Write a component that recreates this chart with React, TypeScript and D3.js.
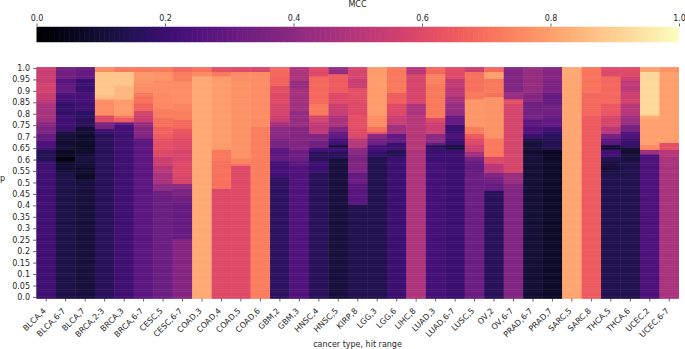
import React, { useEffect, useRef } from 'react';
import * as d3 from 'd3';

type Band = [number, number];

const categories = [
  'BLCA,4', 'BLCA,6-7', 'BLCA,7', 'BRCA,2-3', 'BRCA,3', 'BRCA,6-7', 'CESC,5', 'CESC,6-7', 'COAD,3', 'COAD,4', 'COAD,5',
  'COAD,6', 'GBM,2', 'GBM,3', 'HNSC,4', 'HNSC,5', 'KIRP,8', 'LGG,3', 'LGG,6', 'LIHC,8', 'LUAD,3', 'LUAD,6-7',
  'LUSC,5', 'OV,2', 'OV,6-7', 'PRAD,6-7', 'PRAD,7', 'SARC,5', 'SARC,8', 'THCA,5', 'THCA,6', 'UCEC,2', 'UCEC,6-7',
];

const blca4: Band[] = [[0.94, 0.55], [0.9, 0.57], [0.87, 0.54], [0.85, 0.5], [0.8, 0.47], [0.77, 0.45], [0.75, 0.38], [0.72, 0.36], [0.69, 0.3], [0.66, 0.24], [0.65, 0.2], [0.6, 0.15], [0.58, 0.2], [0, 0.21]];
const blca67: Band[] = [[0.96, 0.33], [0.93, 0.27], [0.9, 0.3], [0.87, 0.24], [0.85, 0.2], [0.8, 0.18], [0.75, 0.21], [0.73, 0.2], [0.7, 0.11], [0.67, 0.09], [0.65, 0.1], [0.62, 0.07], [0.6, 0.03], [0.58, 0.08], [0.55, 0.1], [0, 0.13]];
const blca7: Band[] = [[0.96, 0.3], [0.9, 0.2], [0.87, 0.23], [0.82, 0.21], [0.79, 0.17], [0.75, 0.16], [0.72, 0.1], [0.67, 0.08], [0.65, 0.07], [0.62, 0.09], [0.6, 0.12], [0.57, 0.1], [0.54, 0.08], [0.52, 0.07], [0, 0.11]];
const brca23: Band[] = [[0.985, 0.76], [0.89, 0.88], [0.87, 0.86], [0.8, 0.76], [0.765, 0.6], [0.74, 0.35], [0.72, 0.2], [0, 0.16]];
const brca3: Band[] = [[0.985, 0.72], [0.93, 0.88], [0.87, 0.85], [0.8, 0.79], [0.79, 0.72], [0.77, 0.66], [0.755, 0.3], [0.73, 0.22], [0, 0.21]];
const brca67: Band[] = [[0.985, 0.72], [0.94, 0.78], [0.9, 0.76], [0.88, 0.72], [0.85, 0.7], [0.82, 0.67], [0.8, 0.58], [0.77, 0.55], [0.75, 0.42], [0.7, 0.38], [0, 0.28]];
const cesc5: Band[] = [[0.985, 0.72], [0.95, 0.77], [0.94, 0.75], [0.9, 0.76], [0.83, 0.75], [0.79, 0.73], [0.75, 0.7], [0.72, 0.67], [0.7, 0.66], [0.65, 0.62], [0.62, 0.6], [0.58, 0.55], [0.55, 0.5], [0.5, 0.47], [0.47, 0.4], [0, 0.32]];
const cesc67: Band[] = [[0.985, 0.68], [0.95, 0.73], [0.85, 0.76], [0.82, 0.74], [0.78, 0.73], [0.74, 0.68], [0.7, 0.63], [0.65, 0.6], [0.6, 0.58], [0.53, 0.6], [0.5, 0.58], [0.48, 0.4], [0.45, 0.36], [0.42, 0.33], [0.26, 0.3], [0, 0.38]];
const coad3: Band[] = [[0.99, 0.7], [0.97, 0.76], [0, 0.82]];
const coad4: Band[] = [[0.99, 0.62], [0.97, 0.72], [0.66, 0.79], [0.65, 0.78], [0.6, 0.72], [0.475, 0.7], [0, 0.6]];
const coad5: Band[] = [[0.99, 0.6], [0.95, 0.76], [0.61, 0.77], [0.59, 0.74], [0.575, 0.7], [0, 0.6]];
const coad6: Band[] = [[0.985, 0.58], [0.75, 0.76], [0, 0.73]];
const gbm2: Band[] = [[0.97, 0.68], [0.93, 0.67], [0.9, 0.62], [0.85, 0.6], [0.8, 0.58], [0.77, 0.55], [0.75, 0.45], [0.7, 0.4], [0.66, 0.35], [0.62, 0.28], [0.6, 0.3], [0.53, 0.22], [0, 0.17]];
const gbm3: Band[] = [[0.95, 0.48], [0.92, 0.42], [0.88, 0.46], [0.82, 0.45], [0.75, 0.42], [0.7, 0.38], [0.65, 0.37], [0.6, 0.32], [0.58, 0.28], [0, 0.25]];
const hnsc4: Band[] = [[0.97, 0.6], [0.85, 0.68], [0.8, 0.72], [0.77, 0.58], [0.72, 0.52], [0.69, 0.38], [0.66, 0.33], [0.64, 0.22], [0.6, 0.16], [0.55, 0.2], [0, 0.16]];
const hnsc5: Band[] = [[0.98, 0.42], [0.9, 0.65], [0.85, 0.6], [0.8, 0.55], [0.75, 0.47], [0.73, 0.38], [0.7, 0.3], [0.67, 0.22], [0.66, 0.1], [0.64, 0.2], [0.61, 0.16], [0, 0.11]];
const kirp8: Band[] = [[0.96, 0.58], [0.92, 0.55], [0.87, 0.62], [0.8, 0.6], [0.74, 0.62], [0.7, 0.6], [0.66, 0.5], [0.63, 0.4], [0.6, 0.35], [0.55, 0.37], [0.52, 0.3], [0.5, 0.32], [0.41, 0.27], [0, 0.14]];
const lgg3: Band[] = [[0.8, 0.79], [0.75, 0.76], [0.73, 0.7], [0.72, 0.63], [0.7, 0.4], [0.67, 0.33], [0.64, 0.22], [0.615, 0.18], [0, 0.14]];
const lgg6: Band[] = [[0.9, 0.72], [0.85, 0.66], [0.8, 0.6], [0.76, 0.55], [0.72, 0.45], [0.68, 0.3], [0.65, 0.2], [0.62, 0.15], [0, 0.2]];
const lihc8: Band[] = [[0.98, 0.5], [0.85, 0.58], [0.8, 0.48], [0.65, 0.5], [0, 0.48]];
const luad3: Band[] = [[0.98, 0.68], [0.94, 0.74], [0.79, 0.72], [0.77, 0.6], [0.72, 0.55], [0.68, 0.4], [0.67, 0.3], [0.66, 0.15], [0.65, 0.18], [0.6, 0.2], [0, 0.22]];
const luad67: Band[] = [[0.96, 0.6], [0.92, 0.53], [0.88, 0.5], [0.85, 0.46], [0.8, 0.42], [0.76, 0.3], [0.72, 0.2], [0.7, 0.25], [0.67, 0.2], [0.65, 0.12], [0.64, 0.2], [0, 0.2]];
const lusc5: Band[] = [[0.99, 0.55], [0.9, 0.7], [0.87, 0.72], [0.75, 0.78], [0.72, 0.73], [0.7, 0.65], [0.67, 0.6], [0.64, 0.55], [0.62, 0.45], [0.6, 0.35], [0.55, 0.3], [0, 0.32]];
const ov2: Band[] = [[0.985, 0.68], [0.96, 0.8], [0.9, 0.72], [0.88, 0.7], [0.7, 0.77], [0.62, 0.72], [0.59, 0.6], [0.55, 0.5], [0.53, 0.38], [0.5, 0.33], [0.47, 0.3], [0, 0.16]];
const ov67: Band[] = [[0.9, 0.37], [0.87, 0.43], [0.85, 0.62], [0.55, 0.58], [0.5, 0.43], [0, 0.37]];
const prad67: Band[] = [[0.9, 0.42], [0.86, 0.38], [0.82, 0.33], [0.78, 0.34], [0.75, 0.28], [0.72, 0.25], [0.7, 0.2], [0.68, 0.12], [0.65, 0.11], [0.62, 0.09], [0.6, 0.11], [0, 0.1]];
const prad7: Band[] = [[0.95, 0.38], [0.9, 0.36], [0.85, 0.3], [0.8, 0.33], [0.75, 0.3], [0.73, 0.22], [0.7, 0.17], [0.65, 0.14], [0.62, 0.06], [0, 0.075]];
const sarc5: Band[] = [[0.97, 0.82], [0, 0.81]];
const sarc8: Band[] = [[0.9, 0.71], [0.8, 0.68], [0, 0.65]];
const thca5: Band[] = [[0.97, 0.6], [0.85, 0.68], [0.8, 0.64], [0.75, 0.58], [0.72, 0.5], [0.7, 0.35], [0.67, 0.27], [0.65, 0.1], [0.62, 0.22], [0.6, 0.15], [0.55, 0.11], [0, 0.14]];
const thca6: Band[] = [[0.97, 0.6], [0.95, 0.56], [0.9, 0.52], [0.85, 0.56], [0.8, 0.5], [0.76, 0.44], [0.73, 0.35], [0.7, 0.25], [0.67, 0.2], [0.66, 0.18], [0.63, 0.09], [0.6, 0.11], [0, 0.14]];
const ucec2: Band[] = [[0.985, 0.8], [0.8, 0.92], [0.78, 0.82], [0.67, 0.8], [0.65, 0.75], [0.63, 0.45], [0, 0.24]];
const ucec67: Band[] = [[0.985, 0.77], [0.68, 0.8], [0.65, 0.62], [0.62, 0.5], [0, 0.47]];

const columns = [
  blca4, blca67, blca7, brca23, brca3, brca67, cesc5, cesc67, coad3, coad4, coad5, coad6, gbm2, gbm3, hnsc4, hnsc5, kirp8,
  lgg3, lgg6, lihc8, luad3, luad67, lusc5, ov2, ov67, prad67, prad7, sarc5, sarc8, thca5, thca6, ucec2, ucec67,
];

const pRows = d3.range(101).map((i) => i / 100);
const yTickLabels = ['1.0', '0.95', '0.9', '0.85', '0.8', '0.75', '0.7', '0.65', '0.6', '0.55', '0.5', '0.45', '0.4', '0.35', '0.3', '0.25', '0.2', '0.15', '0.1', '0.05', '0.0'];
const barTicks = [0, 0.2, 0.4, 0.6, 0.8, 1];

const width = 685;
const height = 349;
const margin = { left: 36.5, right: 679, top: 67.3, bottom: 298.6 };
const fontFamily = '"DejaVu Sans", sans-serif';
const inkColor = '#262626';

const App = () => {
  const ref = useRef<SVGSVGElement>(null);

  useEffect(() => {
    const svg = d3.select(ref.current);
    svg.selectAll('*').remove();

    const color = d3.scaleSequential(d3.interpolateMagma).domain([0, 1]);

    // colorbar
    const barX = d3.scaleLinear().domain([0, 1]).range([margin.left, margin.right]);
    const barSteps = d3.range(256);
    const barBand = d3.scaleBand<number>().domain(barSteps).range([margin.left, margin.right]);
    svg.append('g')
      .selectAll('rect')
      .data(barSteps)
      .join('rect')
      .attr('x', (d) => barBand(d)!)
      .attr('y', 26.8)
      .attr('width', (d) => barBand.bandwidth() + (d < 255 ? 0.6 : 0))
      .attr('height', 15.4)
      .attr('fill', (d) => color(d / 255));

    const barAxis = svg.append('g')
      .attr('transform', 'translate(0,26.5)')
      .call(d3.axisTop(barX).tickValues(barTicks).tickFormat(d3.format('.1f')).tickSize(3).tickPadding(3));
    barAxis.select('.domain').remove();

    svg.append('text')
      .attr('x', 357.5)
      .attr('y', 7)
      .attr('text-anchor', 'middle')
      .attr('font-size', 8)
      .text('MCC');

    // heatmap, one rect per column per p row
    const x = d3.scaleBand<string>().domain(categories).range([margin.left, margin.right]);
    const y = d3.scaleBand<number>().domain(pRows).range([margin.bottom, margin.top]);
    const lookup = (bands: Band[], p: number) => bands.find((b) => p >= b[0] - 1e-9)![1];

    // painted twice so the seams between the cells stay faint
    [0, 1].forEach(() => {
      svg.append('g')
        .selectAll('g')
        .data(columns)
        .join('g')
        .attr('transform', (_, i) => `translate(${x(categories[i])},0)`)
        .selectAll('rect')
        .data((bands) => pRows.map((p) => ({ p, v: lookup(bands, p) })))
        .join('rect')
        .attr('y', (d) => y(d.p)!)
        .attr('width', x.bandwidth())
        .attr('height', y.bandwidth())
        .attr('fill', (d) => color(d.v));
    });

    const pValues = yTickLabels.map(Number);
    const yAxis = svg.append('g')
      .attr('transform', `translate(${margin.left},0)`)
      .call(d3.axisLeft(y).tickValues(pValues).tickFormat((_, i) => yTickLabels[i]).tickSize(3.5).tickPadding(3));
    yAxis.select('.domain').remove();

    const xAxis = svg.append('g')
      .attr('transform', `translate(0,${margin.bottom})`)
      .call(d3.axisBottom(x).tickSize(3).tickPadding(3));
    xAxis.select('.domain').remove();
    xAxis.selectAll('text')
      .attr('text-anchor', 'end')
      .attr('dy', 0)
      .attr('transform', 'translate(-4,8.5) rotate(-45)');

    svg.selectAll('.tick text').attr('font-size', 8).attr('font-family', fontFamily).attr('fill', inkColor);
    svg.selectAll('.tick line').attr('stroke', inkColor).attr('stroke-width', 0.7);

    svg.append('text')
      .attr('x', 357.5)
      .attr('y', 347)
      .attr('text-anchor', 'middle')
      .attr('font-size', 8)
      .text('cancer type, hit range');

    svg.append('text')
      .attr('x', 0)
      .attr('y', 181)
      .attr('font-size', 8)
      .text('p');
  }, []);

  return (
    <svg
      ref={ref}
      width={width}
      height={height}
      style={{ position: 'absolute', left: 0, top: 0, fontFamily, fill: inkColor }}
    />
  );
};

export default App;
